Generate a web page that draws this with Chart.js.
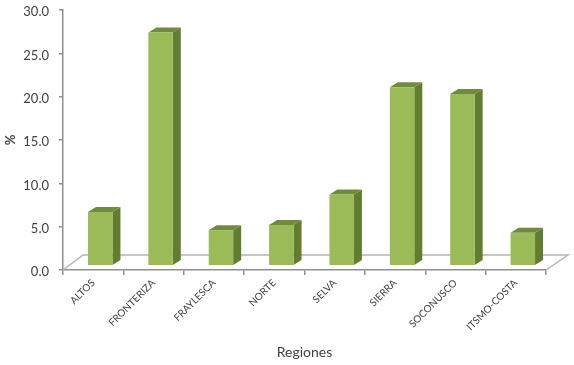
<!DOCTYPE html>
<html>
<head>
<meta charset="utf-8">
<style>
html,body{margin:0;padding:0;background:#fff;}
#wrap{width:574px;height:365px;position:relative;}
canvas{filter:blur(0.45px);}
</style>
<script src="https://cdn.jsdelivr.net/npm/chart.js@4"></script>
</head>
<body>
<div id="wrap"><canvas id="c" width="574" height="365"></canvas></div>
<script>
const categories = ["ALTOS","FRONTERIZA","FRAYLESCA","NORTE","SELVA","SIERRA","SOCONUSCO","ITSMO-COSTA"];
const values = [6.7,27.4,4.6,5.2,8.7,21.1,20.3,4.3];
const floorBase = [0.58];
const yTicks = [0,5,10,15,20,25,30];

const depthX = 8, depthY = 5, shiftX = 7;
const sideColor = '#637d30', topColor = '#6f8b3c', frontColor = '#9BBB59';
const axisColor = '#8f8f8f', floorColor = '#b4b4b4', textColor = '#404040';

const box3d = {
  id:'box3d',
  beforeDatasetsDraw(chart){
    const {ctx,chartArea:a} = chart;
    const b = a.bottom;
    ctx.save();
    ctx.lineWidth = 1.5;
    ctx.strokeStyle = floorColor;
    ctx.beginPath();
    ctx.moveTo(a.left,b);
    ctx.lineTo(a.left+20,b-15);
    ctx.lineTo(a.right+22,b-15);
    ctx.lineTo(a.right,b);
    ctx.stroke();
    ctx.restore();
  },
  beforeDatasetDraw(chart,args){
    const {ctx} = chart;
    ctx.save();
    ctx.translate(shiftX,0);
    args.meta.data.forEach(bar=>{
      const x0 = bar.x-bar.width/2, x1 = bar.x+bar.width/2, t = bar.y, bs = bar.base;
      ctx.fillStyle = sideColor;
      ctx.beginPath();
      ctx.moveTo(x1,t);ctx.lineTo(x1+depthX,t-depthY);ctx.lineTo(x1+depthX,bs-depthY);ctx.lineTo(x1,bs);
      ctx.closePath();ctx.fill();
      ctx.fillStyle = topColor;
      ctx.beginPath();
      ctx.moveTo(x0,t);ctx.lineTo(x0+depthX,t-depthY);ctx.lineTo(x1+depthX,t-depthY);ctx.lineTo(x1,t);
      ctx.closePath();ctx.fill();
    });
  },
  afterDatasetDraw(chart){ chart.ctx.restore(); }
};

new Chart(document.getElementById('c'),{
  type:'bar',
  data:{labels:categories,datasets:[{
    data:values,base:floorBase[0],backgroundColor:frontColor,borderWidth:0,
    barPercentage:0.405,categoryPercentage:1
  }]},
  options:{
    responsive:false,animation:false,
    layout:{padding:{top:10,right:28,left:0,bottom:0}},
    plugins:{legend:{display:false},tooltip:{enabled:false}},
    scales:{
      x:{
        afterFit(s){s.height=95;s.paddingLeft=0;s.paddingRight=0;},
        grid:{drawOnChartArea:false,color:axisColor,tickLength:5,lineWidth:1.5},
        border:{color:axisColor,width:1.5},
        ticks:{minRotation:45,maxRotation:45,autoSkip:false,color:textColor,padding:2,font:{family:'Lato',size:10}},
        title:{display:true,text:'Regiones',color:textColor,font:{family:'Lato',size:14},padding:{top:0,bottom:4}}
      },
      y:{
        min:0,max:30,
        afterFit(s){s.width=63;s.paddingTop=0;s.paddingBottom=0;},
        afterBuildTicks(s){s.ticks=yTicks.map(v=>({value:v}));},
        grid:{drawOnChartArea:false,color:axisColor,tickLength:4,lineWidth:1.5},
        border:{color:axisColor,width:1.5},
        ticks:{color:textColor,padding:10,labelOffset:2,font:{family:'Lato',size:13},callback:v=>v.toFixed(1)},
        title:{display:true,text:'%',color:textColor,font:{family:'Lato',size:13,weight:'bold'},padding:{top:3,bottom:0}}
      }
    }
  },
  plugins:[box3d]
});
</script>
</body>
</html>
